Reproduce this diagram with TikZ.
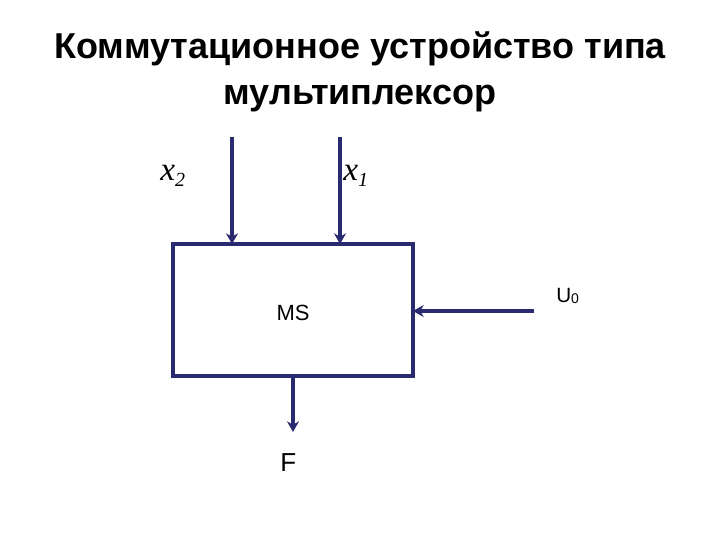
\documentclass[tikz,border=0pt]{standalone}
\usepackage{fontspec}
\setmainfont{Liberation Sans}
\newfontfamily\serifit{Liberation Serif}
\usetikzlibrary{arrows.meta}
\definecolor{navy}{RGB}{42,42,112}
\tikzset{
  wire/.style={draw=navy, line width=2.3pt, -{Stealth[length=8pt,width=9pt]}},
  lbl/.style={inner sep=0pt, text=black},
  xlbl/.style={lbl, font=\serifit\itshape\fontsize{25}{30}\selectfont}
}
\begin{document}
\begin{tikzpicture}[x=0.75pt,y=-0.75pt]
\useasboundingbox (0,0) rectangle (720,540);
\node[lbl, font=\bfseries\fontsize{27}{34.5}\selectfont, align=center] (title) at (360,72)
  {Коммутационное устройство типа\\мультиплексор};
\node[draw=navy, line width=2.3pt, minimum width=180pt, minimum height=99pt, inner sep=0pt] (ms) at (293,310) {};
\node[lbl, font=\fontsize{16.5}{20}\selectfont] (mst) at (293,313) {MS};
\coordinate (x2s) at (232,137);
\coordinate (x2e) at (232,244);
\coordinate (x1s) at (340,137);
\coordinate (x1e) at (340,244);
\coordinate (us) at (534,311);
\coordinate (ue) at (413,311);
\coordinate (fs) at (293,376);
\coordinate (fe) at (293,432);
\draw[wire] (x2s) -- (x2e);
\draw[wire] (x1s) -- (x1e);
\draw[wire] (us) -- (ue);
\draw[wire] (fs) -- (fe);
\node[xlbl, anchor=base west] (x2) at (160,180) {x\raisebox{-5pt}{\fontsize{15}{18}\selectfont 2}};
\node[xlbl, anchor=base west] (x1) at (343,180) {x\raisebox{-5pt}{\fontsize{15}{18}\selectfont 1}};
\node[lbl, anchor=base west, font=\fontsize{15.5}{18}\selectfont] (u0) at (556,302) {U\raisebox{-1pt}{\fontsize{10.5}{12}\selectfont 0}};
\node[lbl, anchor=base west, font=\fontsize{19.5}{22}\selectfont] (f) at (280,471) {F};
\end{tikzpicture}
\end{document}
